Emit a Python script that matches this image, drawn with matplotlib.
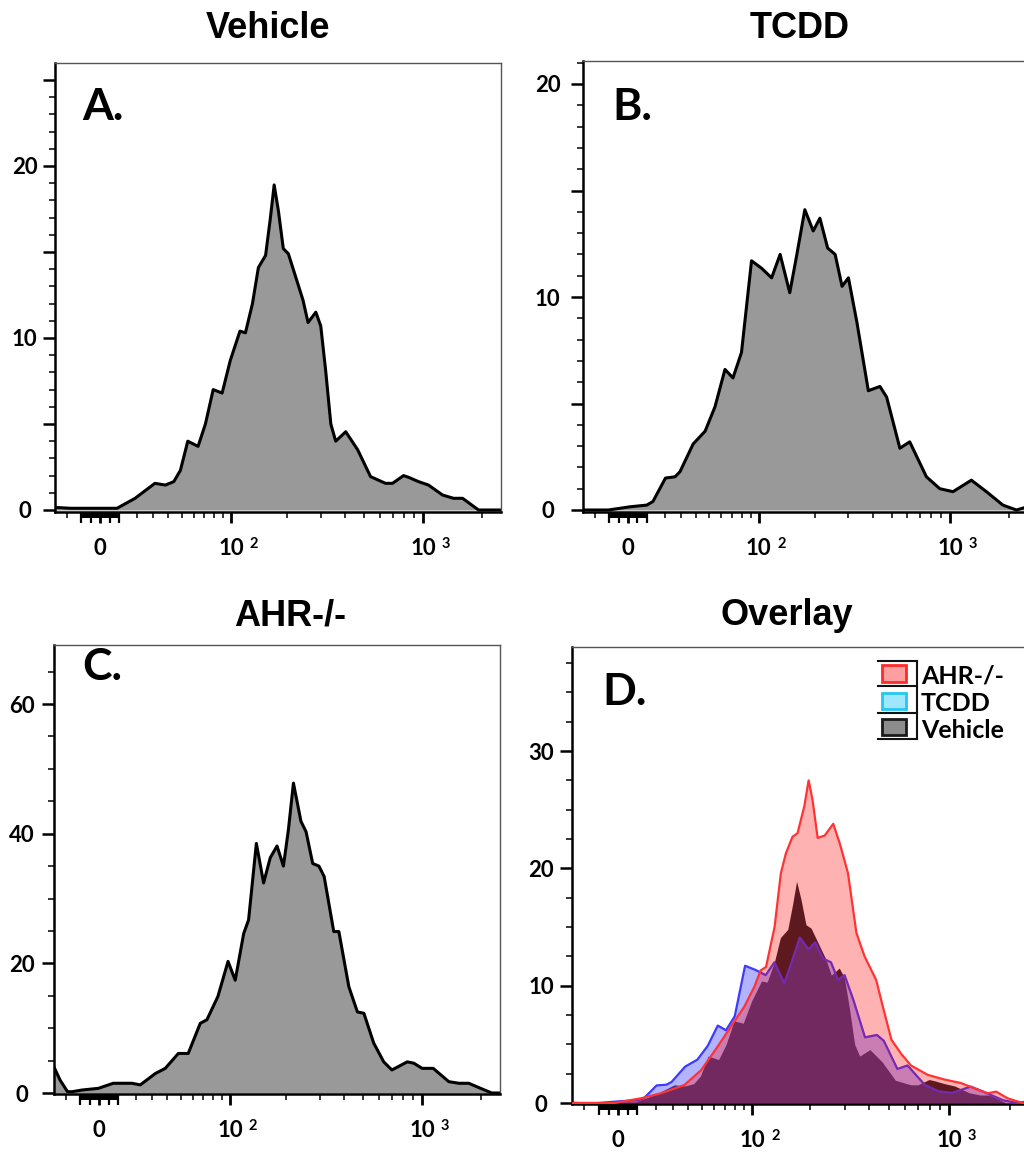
import numpy as np
import matplotlib
matplotlib.use("Agg")
import matplotlib.pyplot as plt
from matplotlib import transforms as mtrans
from matplotlib.patches import Rectangle
from matplotlib.lines import Line2D

plt.rcParams['font.family'] = ['Lato', 'DejaVu Sans']
plt.rcParams['font.weight'] = 'bold'

# ---------------- data (fluorescence intensity vs. count) ----------------
vehicle_x = [-25, -16, 9, 19, 31, 38, 44, 49, 55, 64, 71, 79, 89, 99, 112, 120, 131, 141, 154, 163,
             171, 180, 191, 203, 221, 242, 257, 282, 299, 317, 337, 357, 402, 463, 539, 643, 698,
             795, 843, 948, 1066, 1258, 1431, 1591, 1921, 2550]
vehicle_y = [0.15, 0.1, 0.1, 0.68, 1.55, 1.45, 1.65, 2.3, 4.0, 3.7, 5.0, 7.0, 6.8, 8.7, 10.4, 10.3,
             12.0, 14.1, 14.8, 16.9, 18.9, 17.4, 15.2, 14.9, 13.6, 12.2, 10.9, 11.5, 10.7, 8.1, 5.0,
             4.0, 4.55, 3.5, 1.94, 1.55, 1.55, 2.0, 1.9, 1.65, 1.45, 0.87, 0.68, 0.68, 0.0, 0.0]

tcdd_x = [-27, -10.5, 1, 10, 13.4, 20.5, 26.2, 29.3, 38, 46.7, 54.6, 63.3, 70.9, 79.7, 91.1, 103.8,
          117.9, 131.2, 147.8, 160.5, 177.7, 196.7, 213.2, 234, 256, 278, 300, 332, 380, 436, 472,
          552, 620, 755, 884, 1033, 1283, 1532, 1860, 2180, 2380]
tcdd_y = [0, 0, 0.15, 0.23, 0.4, 1.5, 1.56, 1.8, 3.1, 3.7, 4.85, 6.6, 6.2, 7.4, 11.7, 11.35, 10.9,
          12.0, 10.2, 11.9, 14.1, 13.1, 13.7, 12.3, 12.0, 10.5, 10.9, 8.8, 5.6, 5.8, 5.3, 2.9, 3.2,
          1.56, 1.0, 0.86, 1.4, 0.86, 0.23, 0, 0.1]

ahr_x = [-25, -21.4, -17.1, -14.5, -9.1, -0.4, 7.5, 17.8, 22.6, 31.9, 38.6, 48.2, 56.2, 67, 73.5,
         85.3, 97.4, 106.8, 118.9, 126.4, 139.2, 152.2, 165.1, 179.2, 193.6, 205.6, 218.4, 239, 254,
         275, 296, 315, 353, 375, 422, 467, 504, 566, 637, 701, 840, 907, 1001, 1140, 1370, 1541,
         1732, 1989, 2270, 2600]
ahr_y = [4.0, 2.0, 0.2, 0.2, 0.46, 0.72, 1.5, 1.5, 1.25, 3.0, 3.8, 6.1, 6.1, 10.75, 11.3, 14.9,
         20.3, 17.4, 24.6, 26.7, 38.5, 32.4, 36.3, 38.1, 35.0, 40.6, 47.8, 41.9, 40.3, 35.4, 35.0,
         33.4, 24.9, 24.9, 16.4, 12.5, 12.3, 7.7, 4.8, 3.55, 4.8, 4.6, 3.8, 3.8, 1.75, 1.5, 1.5,
         0.72, 0, 0]

ahr_overlay_x = [-25, -2.1, 11.8, 23, 37.5, 49.5, 63.1, 75.6, 90.1, 102.4, 110.8, 118.4, 131.4,
                 141.8, 150.7, 163, 173, 187.4, 197.2, 206.6, 219.2, 238, 263, 284, 312, 344, 378,
                 432, 467, 515, 576, 645, 782, 948, 1146, 1335, 1557, 1715, 1956, 2320, 2600]
ahr_overlay_y = [0, 0, 0.4, 0.83, 1.53, 2.8, 4.8, 6.5, 8.2, 9.9, 11.3, 11.6, 15.0, 19.6, 21.3, 22.7,
                 23.0, 25.3, 27.5, 25.8, 22.6, 22.8, 23.8, 22.1, 19.6, 14.5, 12.5, 10.5, 8.2, 5.4,
                 4.2, 3.2, 2.4, 2.0, 1.7, 1.25, 0.83, 0.97, 0.4, 0, 0]

titles = ["Vehicle", "TCDD", "AHR-/-", "Overlay"]
letters = ["A.", "B.", "C.", "D."]
legend_labels = ["AHR-/-", "TCDD", "Vehicle"]
x_major = [0, 100, 1000]
x_major_labels = ["0", "10", "10"]
x_major_sup = ["", "2", "3"]
x_minor = [-18, 20, 30, 40, 50, 60, 70, 80, 90, 200, 300, 400, 500, 600, 700, 800, 900, 2000]
bar_span = (-10, 10)
bar_notch = [-10, -5, 5, 10]

# ---------------- scale (arcsinh display, like flow cytometry) ----------------
ASINH_C = 45.0


def fwd(x):
    return np.arcsinh(np.asarray(x, dtype=float) / ASINH_C)


def inv(u):
    return ASINH_C * np.sinh(np.asarray(u, dtype=float))


W, H = 1024, 1154
fig = plt.figure(figsize=(W / 100, H / 100), dpi=100)


def px_axes(left, right, top, bottom):
    return fig.add_axes([left / W, 1 - bottom / H, (right - left) / W, (bottom - top) / H])


def style(ax, ylim, ymaj, ylab, ymin, ypad):
    ax.set_xscale('function', functions=(fwd, inv))
    for s in ('left', 'bottom'):
        ax.spines[s].set_linewidth(1.8)
        ax.spines[s].set_color('black')
    for s in ('top', 'right'):
        ax.spines[s].set_linewidth(1.0)
        ax.spines[s].set_color('#555555')
    ax.set_xticks(x_major, x_major_labels)
    ax.set_xticks(x_minor, minor=True)
    ax.tick_params(axis='x', which='major', length=8, width=2.0, pad=11, labelsize=16)
    ax.tick_params(axis='x', which='minor', length=4.3, width=1.1)
    ax.set_yticks(ymaj, ylab)
    ax.set_yticks(ymin, minor=True)
    ax.tick_params(axis='y', which='major', length=8.6, width=1.8, pad=ypad, labelsize=16)
    ax.tick_params(axis='y', which='minor', length=4.6, width=1.1)
    plt.setp(ax.get_yticklabels(), ha='center')
    blend = mtrans.blended_transform_factory(ax.transData, ax.transAxes)
    ax_h_px = ax.get_position().height * H
    bar = Rectangle((bar_span[0], 0), bar_span[1] - bar_span[0], -5.5 / ax_h_px,
                    transform=blend, facecolor='black', edgecolor='none', clip_on=False,
                    zorder=3)
    ax.add_patch(bar)
    ax.plot(bar_notch, [0] * len(bar_notch), ls='none', marker=3, ms=8, mew=1.6,
            color='black', transform=blend, clip_on=False)
    for xv, s in zip(x_major, x_major_sup):
        if s:
            ax.annotate(s, xy=(xv, 0), xycoords=blend, xytext=(13.5, -23),
                        textcoords='offset points', ha='left', va='center',
                        fontsize=10.5, fontweight='bold')
    ax.set_xlim(-25, 2500)
    ax.set_ylim(*ylim)


def single(ax, x, y):
    ax.fill_between(x, y, 0, color='#999999', lw=0, zorder=1)
    ax.plot(x, y, color='black', lw=2.2, zorder=2, solid_joinstyle='round')


# Panel A
axA = px_axes(55, 501, 63, 512)
single(axA, vehicle_x, vehicle_y)
style(axA, (-2 / 17.2, 447 / 17.2), [0, 5, 10, 15, 20, 25], ['0', '', '10', '', '20', ''],
      [v for v in range(0, 27) if v % 5], 13.3)

# Panel B
axB = px_axes(583, 1028, 61, 512)
single(axB, tcdd_x, tcdd_y)
style(axB, (-2 / 21.3, 449 / 21.3), [0, 5, 10, 15, 20], ['0', '', '10', '', '20'],
      [v for v in range(0, 22) if v % 5], 17)

# Panel C
axC = px_axes(54, 500, 645, 1094)
single(axC, ahr_x, ahr_y)
style(axC, (-1 / 6.483, 448 / 6.483), [0, 20, 40, 60], ['0', '20', '40', '60'],
      [v for v in range(0, 70, 5) if v % 20], 14.4)

# Panel D (overlay)
axD = px_axes(572, 1029, 647, 1104)
axD.fill_between(vehicle_x, vehicle_y, 0, color='#19252b', lw=0, zorder=1)
axD.fill_between(tcdd_x, tcdd_y, 0, color='#5757ff', alpha=0.45, lw=0, zorder=2)
axD.plot(tcdd_x, tcdd_y, color='#3b3bff', lw=1.6, zorder=3)
axD.fill_between(ahr_overlay_x, ahr_overlay_y, 0, color='#ff0000', alpha=0.30, lw=0, zorder=4)
axD.plot(ahr_overlay_x, ahr_overlay_y, color='#ff3333', lw=1.6, zorder=5)
style(axD, (-1 / 11.73, 456 / 11.73), [0, 10, 20, 30], ['0', '10', '20', '30'],
      [v * 2.5 for v in range(1, 16) if v % 4], 13.7)

# titles
for (cx, by), t in zip([(268, 38), (800, 38), (290, 625), (787, 625)], titles):
    fig.text(cx / W, 1 - by / H, t, ha='center', va='baseline', fontsize=26,
             fontweight='bold', family='Liberation Sans')

# panel letters
for ax, (fx_, fy_), lt in zip([axA, axB, axC, axD],
                              [(0.0605, 0.873), (0.067, 0.869), (0.063, 0.922), (0.0655, 0.873)],
                              letters):
    ax.text(fx_, fy_, lt, transform=ax.transAxes, ha='left', va='baseline',
            fontsize=32, fontweight='bold')


# legend in panel D (drawn manually)
def fx(x):
    return x / W


def fy(y):
    return 1 - y / H


for yy in (661, 686, 713, 739):
    fig.add_artist(Line2D([fx(878), fx(917)], [fy(yy), fy(yy)], color='#111111', lw=1.5,
                          transform=fig.transFigure))
fig.add_artist(Line2D([fx(917), fx(917)], [fy(661), fy(739)], color='#111111', lw=1.5,
                      transform=fig.transFigure))
sw = [((665, 682), '#ff9e9e', '#ff2a2a'),
      ((693, 709), '#9fe6ff', '#22c8f0'),
      ((719, 735), '#8c8c8c', '#1a1a1a')]
baselines = [683, 711, 738]
for ((y1, y2), fc, ec), lab, bl in zip(sw, legend_labels, baselines):
    fig.add_artist(Rectangle((fx(882), fy(y2)), (906 - 882) / W, (y2 - y1) / H,
                             facecolor=fc, edgecolor=ec, lw=2, transform=fig.transFigure))
    fig.text(fx(921), fy(bl), lab, ha='left', va='baseline', fontsize=18, fontweight='bold')

fig.savefig('out.png', dpi=100)
